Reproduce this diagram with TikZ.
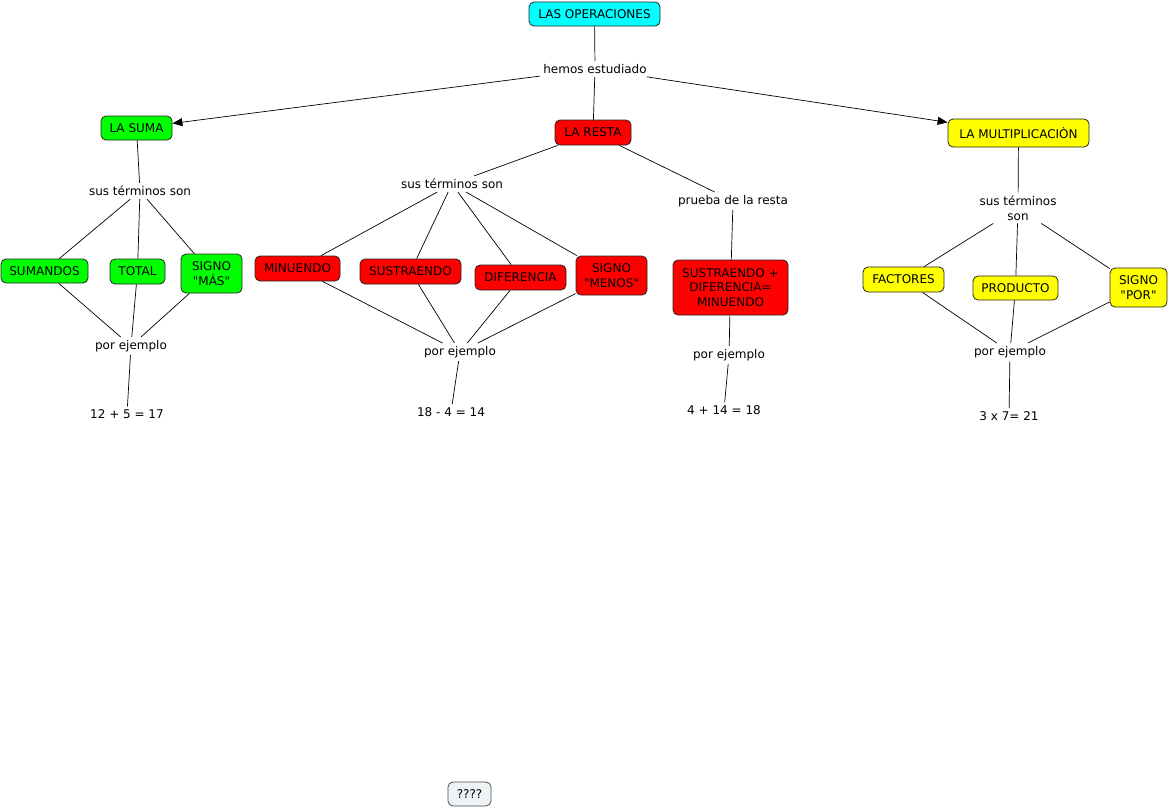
\documentclass[tikz,border=0pt]{standalone}
\usepackage{fontspec}
\setmainfont{DejaVu Sans}[Ligatures=TeXOff]
\usetikzlibrary{arrows.meta}
\definecolor{cyanc}{HTML}{00FFFF}
\definecolor{greenc}{HTML}{00FF00}
\definecolor{redc}{HTML}{FF0000}
\definecolor{yellowc}{HTML}{FFFF00}
\definecolor{grayc}{HTML}{EEF4F6}
\tikzset{
  concept/.style={draw=black!85, line width=0.8pt, rounded corners=5pt, inner xsep=8pt, inner ysep=3pt,
    minimum height=24pt, align=center, font=\fontsize{12}{14.7}\selectfont},
  linkph/.style={inner sep=3pt, align=center, font=\fontsize{12}{14.7}\selectfont},
  conn/.style={draw=black, line width=0.7pt},
  arr/.style={conn, -{Triangle[length=10pt,width=8pt]}}
}
\begin{document}
\begin{tikzpicture}[x=1pt,y=-1pt]
\useasboundingbox[fill=white] (0,0) rectangle (1169,809);
% top
\node[concept, fill=cyanc, minimum width=131pt] (ops) at (594.5,14) {LAS OPERACIONES};
\node[linkph] (hemos) at (595,69) {hemos estudiado};
\node[concept, fill=greenc, minimum width=71pt] (suma) at (136.5,128) {LA SUMA};
\node[concept, fill=redc, minimum width=76pt, minimum height=25pt] (resta) at (593,132.5) {LA RESTA};
\node[concept, fill=yellowc, minimum width=141pt, minimum height=28pt] (mult) at (1018.5,133) {LA MULTIPLICACIÒN};
% suma
\node[linkph] (sts) at (140,191) {sus términos son};
\node[concept, fill=greenc, minimum width=87pt] (sumandos) at (44.5,271) {SUMANDOS};
\node[concept, fill=greenc, minimum width=55pt, minimum height=25pt] (total) at (137.5,271.5) {TOTAL};
\node[concept, fill=greenc, minimum width=61pt, minimum height=39pt, inner xsep=4pt] (mas) at (211.5,273.5) {SIGNO\\"MÁS"};
\node[linkph] (pes) at (131,346) {por ejemplo};
\node[linkph] (exs) at (127,414) {12 + 5 = 17};
% resta
\node[linkph] (str) at (452,184) {sus términos son};
\node[concept, fill=redc, minimum width=85pt, minimum height=25pt] (minu) at (297.5,268.5) {MINUENDO};
\node[concept, fill=redc, minimum width=101pt, minimum height=25pt] (sust) at (410.5,271.5) {SUSTRAENDO};
\node[concept, fill=redc, minimum width=91pt, minimum height=25pt] (dif) at (520.5,277.5) {DIFERENCIA};
\node[concept, fill=redc, minimum width=71pt, minimum height=39pt, inner xsep=4pt] (menos) at (611.5,275.5) {SIGNO\\"MENOS"};
\node[linkph] (per) at (460,352) {por ejemplo};
\node[linkph] (exr) at (451,412) {18 - 4 = 14};
\node[linkph] (prueba) at (733,201) {prueba de la resta};
\node[concept, fill=redc, minimum width=115pt, minimum height=55pt, inner xsep=4pt] (form) at (730.5,287.5) {SUSTRAENDO +\\DIFERENCIA=\\MINUENDO};
\node[linkph] (pep) at (729,355) {por ejemplo};
\node[linkph] (exp) at (724,410) {4 + 14 = 18};
% mult
\node[linkph] (stm) at (1018,208) {sus términos\\son};
\node[concept, fill=yellowc, minimum width=81pt, minimum height=25pt] (fact) at (903.5,279.5) {FACTORES};
\node[concept, fill=yellowc, minimum width=85pt] (prod) at (1015.5,288) {PRODUCTO};
\node[concept, fill=yellowc, minimum width=57pt, minimum height=39pt, inner xsep=3pt] (por) at (1138.5,287.5) {SIGNO\\"POR"};
\node[linkph] (pem) at (1010,352) {por ejemplo};
\node[linkph] (exm) at (1009,416) {3 x 7= 21};
% bottom
\node[concept, fill=grayc, draw=black!70, minimum width=43pt] (q) at (469.5,794) {????};
% connectors
\draw[conn] (ops) -- (hemos);
\draw[arr] (hemos) -- (suma);
\draw[conn] (hemos) -- (resta);
\draw[arr] (hemos) -- (mult);
\draw[conn] (suma) -- (sts);
\foreach \n in {sumandos,total,mas} { \draw[conn] (sts) -- (\n); \draw[conn] (\n) -- (pes); }
\draw[conn] (pes) -- (exs);
\draw[conn] (resta) -- (str);
\draw[conn] (resta) -- (prueba);
\foreach \n in {minu,sust,dif,menos} { \draw[conn] (str) -- (\n); \draw[conn] (\n) -- (per); }
\draw[conn] (per) -- (exr);
\draw[conn] (prueba) -- (form);
\draw[conn] (form) -- (pep);
\draw[conn] (pep) -- (exp);
\draw[conn] (mult) -- (stm);
\foreach \n in {fact,prod,por} { \draw[conn] (stm) -- (\n); \draw[conn] (\n) -- (pem); }
\draw[conn] (pem) -- (exm);
\end{tikzpicture}
\end{document}
